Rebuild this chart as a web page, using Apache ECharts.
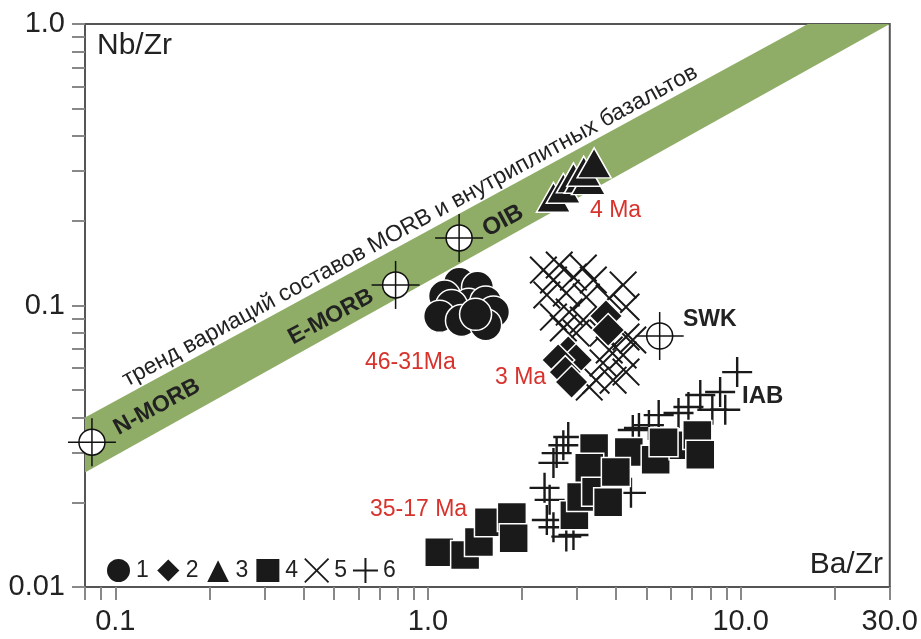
<!DOCTYPE html>
<html>
<head>
<meta charset="utf-8">
<title>Nb/Zr - Ba/Zr</title>
<script src="https://cdn.jsdelivr.net/npm/echarts@6/dist/echarts.min.js"></script>
<style>
html, body { margin: 0; padding: 0; background: #fff; }
#main { width: 921px; height: 639px; }
</style>
</head>
<body>
<div id="main"></div>
<script>
// ticks / labels
var xTickValues = [0.08, 0.09, 0.1, 0.2, 0.3, 0.4, 0.5, 0.6, 0.7, 0.8, 0.9,
                   1, 2, 3, 4, 5, 6, 7, 8, 9, 10, 20, 30];
var xLabelValues = [0.1, 1, 10, 30];
var yTickValues = [0.01, 0.02, 0.03, 0.04, 0.05, 0.06, 0.07, 0.08, 0.09,
                   0.1, 0.2, 0.3, 0.4, 0.5, 0.6, 0.7, 0.8, 0.9, 1];
var yLabelValues = [0.01, 0.1, 1];

// MORB - OIB trend band (edges)
var bandUpper = [[0.08, 0.040], [16.4, 1.0]];
var bandLower = [[0.08, 0.0255], [30, 1.0]];

// reference compositions
var refNames = ['N-MORB', 'E-MORB', 'OIB', 'SWK'];
var refPoints = [[0.0842, 0.0327], [0.788, 0.1183], [1.258, 0.1738], [5.51, 0.0779]];

// 1 - circles (46-31 Ma)
var group1 = [[1.26, 0.120], [1.13, 0.108], [1.44, 0.116], [1.35, 0.101], [1.19, 0.100],
              [1.53, 0.103], [1.62, 0.0948], [1.09, 0.0915], [1.28, 0.0885], [1.53, 0.0855],
              [1.42, 0.093]];
// 2 - diamonds (3 Ma)
var group2 = [[3.71, 0.0918], [3.77, 0.0818], [2.81, 0.0684], [2.98, 0.064], [2.61, 0.064],
              [2.75, 0.058], [2.88, 0.0535]];
// 3 - triangles (4 Ma)
var group3 = [[2.52, 0.2425], [2.71, 0.261], [2.92, 0.284], [3.09, 0.283], [3.26, 0.28],
              [3.15, 0.300], [3.40, 0.321]];
// 4 - squares (35-17 Ma)
var group4 = [[1.087, 0.0133], [1.315, 0.0130], [1.456, 0.01445], [1.567, 0.0170], [1.855, 0.01773],
              [1.88, 0.0149], [2.94, 0.0180], [3.09, 0.0209], [3.40, 0.0312], [3.28, 0.0265],
              [3.45, 0.0218], [3.77, 0.0200], [4.39, 0.0302], [3.99, 0.0256], [5.35, 0.0283],
              [6.57, 0.0319], [7.27, 0.0347], [7.43, 0.0295], [5.67, 0.0327]];
// 5 - crosses
var group5 = [[2.34, 0.1336], [2.63, 0.1393], [3.14, 0.1358], [2.52, 0.1232], [2.92, 0.1262],
              [3.38, 0.1232], [4.21, 0.1183], [2.40, 0.109], [2.77, 0.1107], [3.21, 0.1071],
              [3.80, 0.1063], [4.30, 0.0988], [2.52, 0.091], [2.83, 0.0948], [3.14, 0.0888],
              [2.98, 0.0798], [2.71, 0.0832], [4.30, 0.0773], [4.52, 0.0754], [3.80, 0.0695],
              [4.21, 0.0667], [3.63, 0.0625], [4.30, 0.058], [3.45, 0.0543], [3.91, 0.0543],
              [3.28, 0.0513], [3.63, 0.0798]];
// 6 - pluses
var group6 = [[9.75, 0.058], [8.60, 0.0493], [7.43, 0.0481], [8.93, 0.0426], [8.12, 0.0426],
              [6.81, 0.0436], [6.33, 0.0415], [5.47, 0.0408], [5.09, 0.0376], [4.73, 0.0367],
              [4.52, 0.0361], [2.81, 0.0341], [2.71, 0.0319], [2.58, 0.0299], [2.52, 0.0276],
              [2.36, 0.0225], [2.45, 0.0204], [2.40, 0.0173], [2.52, 0.0163], [2.77, 0.0151],
              [2.92, 0.0153], [4.46, 0.0216]];

var FONT = 'Arial, "Liberation Sans", sans-serif';
var RED = '#d8322c';
var crossPath = 'path://M0,5L5,0L50,45L95,0L100,5L55,50L100,95L95,100L50,55L5,100L0,95L45,50Z';
var plusPath = 'path://M46,0H54V46H100V54H54V100H46V54H0V46H46Z';

function fmt(v) {
    v = Number(v.toPrecision(3));
    return v >= 1 ? v.toFixed(1) : String(v);
}

function txt(x, y, s, opt) {
    opt = opt || {};
    return {
        type: 'text', x: x, y: y, z: 10,
        rotation: (opt.rot || 0) * Math.PI / 180,
        style: {
            text: s,
            fontFamily: FONT,
            fontSize: opt.size || 23,
            fontWeight: opt.bold ? 'bold' : 'normal',
            fill: opt.color || '#222',
            align: opt.align || 'center',
            verticalAlign: 'middle'
        }
    };
}

var myChart = echarts.init(document.getElementById('main'));

var option = {
    animation: false,
    backgroundColor: '#fff',
    grid: {
        left: 85, top: 24, right: 25, bottom: 52,
        show: true, borderColor: '#555', borderWidth: 2
    },
    xAxis: {
        type: 'log', logBase: 10, min: 0.08, max: 30,
        axisLine: { show: true, lineStyle: { color: '#555', width: 2 } },
        axisTick: { show: true, length: 13, customValues: xTickValues,
                    lineStyle: { color: '#888', width: 2 } },
        axisLabel: { customValues: xLabelValues, formatter: fmt, margin: 20,
                     fontSize: 29, color: '#222', fontFamily: FONT },
        splitLine: { show: false }
    },
    yAxis: {
        type: 'log', logBase: 10, min: 0.01, max: 1,
        axisLine: { show: true, lineStyle: { color: '#555', width: 2 } },
        axisTick: { show: true, length: 13, customValues: yTickValues,
                    lineStyle: { color: '#888', width: 2 } },
        axisLabel: { customValues: yLabelValues, formatter: fmt, margin: 20,
                     fontSize: 29, color: '#222', fontFamily: FONT },
        splitLine: { show: false }
    },
    legend: {
        left: 100, top: 552,
        itemWidth: 25, itemHeight: 25, itemGap: 6,
        textStyle: { fontSize: 23, color: '#222', fontFamily: FONT },
        data: ['1', '2', '3', '4', '5', '6']
    },
    graphic: [
        txt(97, 46, 'Nb/Zr', { size: 30, align: 'left' }),
        txt(883, 565, 'Ba/Zr', { size: 30, align: 'right' }),
        txt(410, 226, 'тренд вариаций составов MORB и внутриплитных базальтов', { rot: 28.5 }),
        txt(157, 407, refNames[0], { rot: 28.5, bold: true }),
        txt(331, 317, refNames[1], { rot: 28.5, bold: true }),
        txt(503, 221, refNames[2], { rot: 28.5, bold: true, size: 24 }),
        txt(683, 320, refNames[3], { bold: true, align: 'left' }),
        txt(742, 396, 'IAB', { bold: true, align: 'left', size: 24 }),
        txt(590, 211, '4 Ma', { color: RED, align: 'left' }),
        txt(365, 363, '46-31Ma', { color: RED, align: 'left' }),
        txt(495, 378, '3 Ma', { color: RED, align: 'left' }),
        txt(370, 510, '35-17 Ma', { color: RED, align: 'left' })
    ],
    series: [
        {
            name: 'band', type: 'custom', z: 1, silent: true,
            data: [[1, 0.1]],
            renderItem: function (params, api) {
                var poly = bandLower.concat(bandUpper.slice().reverse());
                var pts = poly.map(function (p) { return api.coord(p); });
                return { type: 'polygon', shape: { points: pts }, style: { fill: '#8fad66' } };
            }
        },
        {
            name: 'ref', type: 'custom', z: 3, silent: true,
            data: refPoints,
            renderItem: function (params, api) {
                var c = api.coord([api.value(0), api.value(1)]);
                var st = { stroke: '#111', lineWidth: 1.5 };
                return {
                    type: 'group',
                    children: [
                        { type: 'circle', shape: { cx: c[0], cy: c[1], r: 13 },
                          style: { fill: '#fff', stroke: '#111', lineWidth: 1.5 } },
                        { type: 'line', shape: { x1: c[0] - 24, y1: c[1], x2: c[0] + 24, y2: c[1] }, style: st },
                        { type: 'line', shape: { x1: c[0], y1: c[1] - 24, x2: c[0], y2: c[1] + 24 }, style: st }
                    ]
                };
            }
        },
        {
            name: '5', type: 'scatter', z: 4, data: group5,
            symbol: crossPath, symbolSize: 28,
            itemStyle: { color: '#1a1a1a', opacity: 1 }
        },
        {
            name: '6', type: 'scatter', z: 4, data: group6,
            symbol: plusPath, symbolSize: 30,
            itemStyle: { color: '#1a1a1a', opacity: 1 }
        },
        {
            name: '1', type: 'scatter', z: 5, data: group1,
            symbol: 'circle', symbolSize: 32,
            itemStyle: { color: '#1a1a1a', borderColor: '#fff', borderWidth: 1.5, opacity: 1 }
        },
        {
            name: '2', type: 'scatter', z: 5, data: group2,
            symbol: 'diamond', symbolSize: 33,
            itemStyle: { color: '#1a1a1a', borderColor: '#fff', borderWidth: 1.5, opacity: 1 }
        },
        {
            name: '3', type: 'scatter', z: 5, data: group3,
            symbol: 'triangle', symbolSize: [34, 30],
            itemStyle: { color: '#1a1a1a', borderColor: '#fff', borderWidth: 1.5, opacity: 1 }
        },
        {
            name: '4', type: 'scatter', z: 5, data: group4,
            symbol: 'rect', symbolSize: 29,
            itemStyle: { color: '#1a1a1a', borderColor: '#fff', borderWidth: 1.5, opacity: 1 }
        }
    ]
};

myChart.setOption(option);
</script>
</body>
</html>
